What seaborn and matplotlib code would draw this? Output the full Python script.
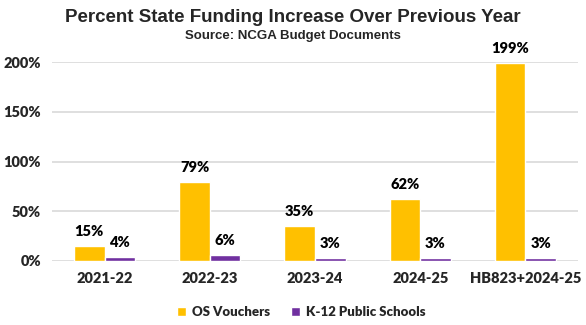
import matplotlib
matplotlib.use("Agg")
import matplotlib.pyplot as plt
import seaborn as sns
import pandas as pd
from matplotlib.patches import Patch

categories = ["2021-22", "2022-23", "2023-24", "2024-25", "HB823+2024-25"]
series_names = ["OS Vouchers", "K-12 Public Schools"]
os_vouchers = [15, 79, 35, 62, 199]
k12_public = [4, 6, 3, 3, 3]
y_ticks = [0, 50, 100, 150, 200]
y_tick_labels = ["0%", "50%", "100%", "150%", "200%"]
colors = ["#FFC000", "#7030A0"]

df = pd.DataFrame({
    "category": categories * 2,
    "series": [series_names[0]] * len(categories) + [series_names[1]] * len(categories),
    "value": os_vouchers + k12_public,
})

sns.set_theme(style="white")
plt.rcParams["font.family"] = ["Lato", "DejaVu Sans"]

fig = plt.figure(figsize=(5.86, 3.25), dpi=100)
ax = fig.add_axes([52 / 586, 64 / 325, 526 / 586, 199 / 325])

sns.barplot(data=df, x="category", y="value", hue="series", order=categories,
            hue_order=series_names, palette=colors, width=0.58, gap=0,
            saturation=1, ax=ax, legend=False, zorder=3)

for c in ax.containers:
    ax.bar_label(c, labels=[f"{v:.0f}%" for v in c.datavalues], padding=6,
                 fontsize=10.5, fontweight="heavy", color="black", clip_on=False)

ax.set_ylim(0, 200)
ax.set_xlim(-0.5, len(categories) - 0.5)
ax.set_yticks(y_ticks)
ax.set_yticklabels(y_tick_labels)
ax.yaxis.grid(True, color="#D9D9D9", linewidth=1.2, zorder=0)
ax.set_axisbelow(True)
for s in ax.spines.values():
    s.set_visible(False)
ax.tick_params(axis="both", length=0, labelsize=10.5, pad=8)
for lab in ax.get_xticklabels() + ax.get_yticklabels():
    lab.set_fontweight("heavy")
ax.set_xlabel("")
ax.set_ylabel("")

fig.text(0.5, 1 - 18 / 325, "Percent State Funding Increase Over Previous Year",
         ha="center", va="center", fontsize=13.5, fontweight="bold",
         family=["Liberation Sans", "DejaVu Sans"])
fig.text(0.5, 1 - 36 / 325, "Source: NCGA Budget Documents",
         ha="center", va="center", fontsize=9.5, fontweight="bold",
         family=["Liberation Sans", "DejaVu Sans"])

handles = [Patch(facecolor=colors[i], label=series_names[i]) for i in range(2)]
leg = fig.legend(handles=handles, loc="center", bbox_to_anchor=(0.514, 1 - 312 / 325),
                 ncol=2, frameon=False, handlelength=0.7, handleheight=0.7,
                 handletextpad=0.4, columnspacing=1.6,
                 prop={"weight": "heavy", "size": 9.5, "family": ["Lato", "DejaVu Sans"]})

fig.savefig("out.png", dpi=100)
